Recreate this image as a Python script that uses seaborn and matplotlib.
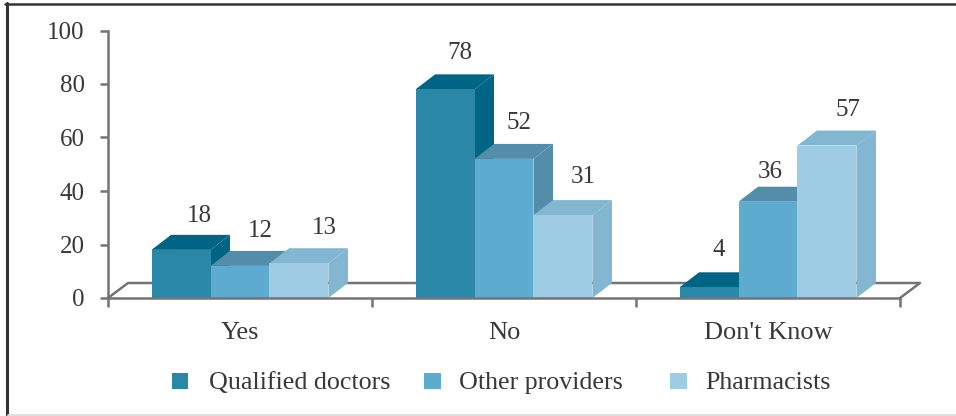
import matplotlib
matplotlib.use('Agg')
import matplotlib.pyplot as plt
from matplotlib.patches import Polygon, Rectangle
from matplotlib.lines import Line2D
import pandas as pd
import seaborn as sns

categories = ['Yes', 'No', "Don't Know"]
series_names = ['Qualified doctors', 'Other providers', 'Pharmacists']
qualified_doctors = [18, 78, 4]
other_providers = [12, 52, 36]
pharmacists = [13, 31, 57]
y_ticks = [0, 20, 40, 60, 80, 100]

front_colors = ['#2b87a8', '#5dabcf', '#9dcce4']
depth_colors = ['#006585', '#548da9', '#83b6d0']

# the value labels are placed by hand in the original, offsets in pixels from the bar's top centre
label_offsets = [
    [(18, 34), (20, 35), (25, 35)],
    [(15, 36), (15, 36), (20, 38)],
    [(10, 37), (2, 30), (21, 36)],
]

TEXT = '#383838'
AXIS = '#747474'
W, H = 956, 416
DX, DY = 19.5, 15  # depth of the fake 3d, in pixels
PT = 0.72  # points per pixel at dpi 100


def add_depth(ax, bars, color, offsets, zorder):
    # top and side faces, offset from the bar's front face in pixels
    to_px = ax.transData
    to_data = ax.transData.inverted()
    for bar, (off_x, off_y) in zip(bars, offsets):
        x0, y0 = to_px.transform((bar.get_x(), 0))
        x1, y1 = to_px.transform((bar.get_x() + bar.get_width(), bar.get_height()))
        top = [(x0, y1), (x1, y1), (x1 + DX, y1 + DY), (x0 + DX, y1 + DY)]
        side = [(x1, y0), (x1 + DX, y0 + DY), (x1 + DX, y1 + DY), (x1, y1)]
        ax.add_patch(Polygon(to_data.transform(top), closed=True, fc=color, ec='none', zorder=zorder))
        ax.add_patch(Polygon(to_data.transform(side), closed=True, fc=color, ec='none', zorder=zorder))
        bar.set_zorder(zorder + 0.5)
        ax.annotate(f'{bar.get_height():.0f}',
                    xy=(bar.get_x() + bar.get_width() / 2, bar.get_height()),
                    xytext=(off_x * PT, off_y * PT), textcoords='offset points',
                    ha='center', va='center', fontsize=18, color=TEXT, zorder=20)


def main():
    sns.set_theme(style='white')
    plt.rcParams['font.family'] = ['Liberation Serif', 'DejaVu Serif']

    df = pd.DataFrame({
        'category': categories * 3,
        'series': [s for s in series_names for _ in categories],
        'value': qualified_doctors + other_providers + pharmacists,
    })

    fig = plt.figure(figsize=(W / 100, H / 100), dpi=100)
    ax = fig.add_axes([108 / W, 1 - 298 / H, 792 / W, 267.5 / H])
    sns.barplot(data=df, x='category', y='value', hue='series', order=categories,
                hue_order=series_names, palette=front_colors, width=0.67, gap=0,
                saturation=1, legend=False, linewidth=0, ax=ax)
    ax.set_xlim(-0.5, 2.5)
    ax.set_ylim(0, 100)
    ax.set_xlabel('')
    ax.set_ylabel('')
    ax.set_yticks(y_ticks)
    ax.set_xticks([-0.5, 0.5, 1.5, 2.5], labels=['', '', '', ''])
    ax.set_xticks([0, 1, 2], minor=True, labels=categories)
    ax.tick_params(axis='y', length=5.8, width=1.8, color=AXIS, labelcolor=TEXT, labelsize=18, pad=11, left=True)
    ax.tick_params(axis='x', which='major', length=6.5, width=1.8, color=AXIS, bottom=True)
    ax.tick_params(axis='x', which='minor', length=0, labelcolor=TEXT, labelsize=19, pad=17)
    for name in ['top', 'right']:
        ax.spines[name].set_visible(False)
    for name in ['left', 'bottom']:
        ax.spines[name].set_color(AXIS)
        ax.spines[name].set_linewidth(1.8)
        ax.spines[name].set_zorder(10)
    ax.patch.set_alpha(0)

    # floor of the 3d box, behind the bars
    to_data = ax.transData.inverted()
    x_l, y_b = ax.transData.transform((-0.5, 0))
    x_r, _ = ax.transData.transform((2.5, 0))
    floor = to_data.transform([(x_l, y_b), (x_l + 20, y_b + DY), (x_r + 20, y_b + DY), (x_r, y_b)])
    ax.add_line(Line2D(floor[:, 0], floor[:, 1], color=AXIS, lw=1.8, clip_on=False, zorder=0.5))

    series_offsets = [[row[i] for row in label_offsets] for i in range(3)]
    for i, bars in enumerate(ax.containers):
        add_depth(ax, bars, depth_colors[i], series_offsets[i], 2 + i)

    # frame of the page: dark on top and left, faint at the bottom, open on the right
    fig.add_artist(Line2D([6.5 / W, 6.5 / W], [0, 1 - 2.7 / H], color='#333333', lw=2.2))
    fig.add_artist(Line2D([5 / W, 1], [1 - 3.8 / H, 1 - 3.8 / H], color='#333333', lw=1.8))
    fig.add_artist(Line2D([8 / W, 1], [1.5 / H, 1.5 / H], color='#dddddd', lw=2))

    # legend
    for color, name, sq_x, text_x in zip(front_colors, series_names, [171.5, 424, 670], [209, 459, 705]):
        fig.add_artist(Rectangle((sq_x / W, 1 - 389 / H), 16.5 / W, 16 / H, fc=color, ec='none'))
        fig.text(text_x / W, 1 - 383 / H, name, ha='left', va='center', fontsize=18.7, color=TEXT)

    plt.savefig('out.png', dpi=100)


if __name__ == "__main__":
    main()
